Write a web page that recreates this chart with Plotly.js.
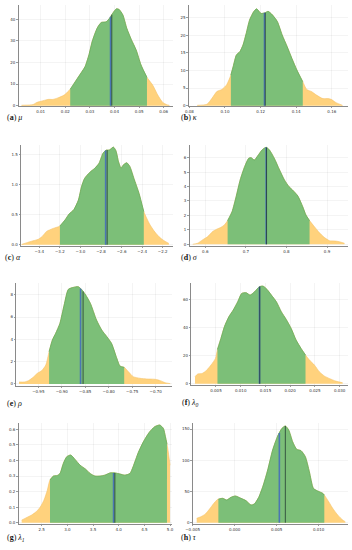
<!DOCTYPE html>
<html>
<head>
<meta charset="utf-8">
<script src="https://cdn.plot.ly/plotly-3.0.1.min.js"></script>
<style>html,body{margin:0;padding:0;background:#fff;}#chart{width:352px;height:550px;}</style>
</head>
<body>
<div id="chart"></div>
<script>
// ---- data (posterior densities) ----
const muX = [0.0022,0.0069,0.0082,0.010,0.013,0.015,0.017,0.0195,0.022,0.0245,0.0265,0.028,0.0296,0.031,0.033,0.0346,0.0366,0.038,0.0393,0.0407,0.0418,0.0434,0.045,0.0468,0.0488,0.0508,0.0532,0.0555,0.0576,0.0596,0.061,0.0623];
const muY = [0.2,0.5,1.4,2.0,2.9,2.9,3.6,4.9,7.6,11.9,15.3,18,23.5,30,36,38.5,38.8,40.5,42.8,44.8,44.6,42,35.8,30.7,25.8,18.8,13.1,9.6,4.9,1.5,0.6,0.15];
const kappaX = [0.0844,0.0899,0.0927,0.0954,0.0982,0.1009,0.1033,0.1046,0.1064,0.1083,0.1101,0.1119,0.1138,0.1161,0.1178,0.1202,0.1226,0.1242,0.1266,0.1294,0.1321,0.1349,0.1376,0.1404,0.1437,0.1459,0.1486,0.1514,0.155,0.1578,0.1596,0.1624,0.166];
const kappaY = [0.1,0.4,2.1,4.0,4.6,5.9,8.7,11.1,14.4,15.3,17.2,20.5,24.3,26.7,27.5,26.2,26.4,26.8,25.8,23.9,20.1,16.8,13.4,10.1,6.8,4.6,4.0,3.0,2.0,2.0,1.8,0.85,0.1];
const alphaX = [-3.571,-3.49,-3.41,-3.37,-3.33,-3.265,-3.2,-3.15,-3.11,-3.065,-3.02,-2.99,-2.96,-2.91,-2.86,-2.82,-2.78,-2.75,-2.72,-2.68,-2.655,-2.63,-2.605,-2.585,-2.55,-2.52,-2.48,-2.43,-2.384,-2.33,-2.285,-2.235,-2.19,-2.14];
const alphaY = [0.005,0.05,0.09,0.14,0.22,0.27,0.31,0.41,0.51,0.58,0.74,0.96,1.10,1.20,1.27,1.35,1.52,1.57,1.57,1.62,1.56,1.38,1.27,1.32,1.36,1.30,1.10,0.85,0.55,0.35,0.23,0.13,0.07,0.02];
const sigmaX = [0.569,0.581,0.593,0.606,0.618,0.628,0.639,0.647,0.655,0.666,0.676,0.686,0.697,0.707,0.713,0.721,0.729,0.740,0.750,0.758,0.770,0.783,0.795,0.806,0.815,0.828,0.840,0.848,0.857,0.869,0.881,0.893,0.906,0.918,0.930,0.943];
const sigmaY = [0,0.07,0.3,0.53,0.88,1.04,1.18,1.34,1.64,2.26,3.3,4.46,5.38,5.96,6.0,5.84,6.12,6.54,6.72,6.54,5.96,5.15,4.46,4.0,3.76,3.35,2.61,2.03,1.64,1.22,0.81,0.48,0.25,0.23,0.18,0.07];
const rhoX = [-0.991,-0.98,-0.971,-0.961,-0.952,-0.943,-0.934,-0.927,-0.92,-0.913,-0.904,-0.895,-0.886,-0.875,-0.865,-0.858,-0.849,-0.839,-0.826,-0.815,-0.804,-0.794,-0.784,-0.776,-0.767,-0.758,-0.748,-0.733,-0.719,-0.701,-0.69,-0.68,-0.669];
const rhoY = [0.18,0.18,0.3,0.6,0.96,1.19,1.7,2.9,3.94,4.54,5.43,7.07,8.48,8.66,8.72,8.48,7.97,7.22,5.73,4.84,4.24,3.64,2.45,1.61,1.49,1.1,0.66,0.51,0.45,0.42,0.3,0.12,0.03];
const lambda0X = [0.00076,0.0013,0.0022,0.003,0.004,0.0049,0.0053,0.006,0.0067,0.0076,0.0085,0.0094,0.0102,0.0111,0.0119,0.0128,0.0138,0.0145,0.0153,0.0162,0.0172,0.0182,0.0192,0.0202,0.0212,0.0222,0.0231,0.0239,0.0249,0.0259,0.0269,0.028,0.0292,0.0306];
const lambda0Y = [5,6.9,7.3,9.2,13.3,18,24.4,32.2,40.5,47.6,52.4,58.3,64.2,64.7,63,65.4,69,69.4,67.1,63,58.3,51.2,45.7,39.3,31,25.1,20.4,16.8,13.3,8.5,5.5,3.6,1.9,0.7];
const lambda1X = [2.11,2.21,2.305,2.39,2.47,2.545,2.61,2.66,2.727,2.805,2.857,2.92,2.987,3.065,3.149,3.247,3.36,3.44,3.537,3.636,3.73,3.83,3.93,4.025,4.12,4.22,4.28,4.38,4.48,4.59,4.70,4.80,4.87,4.91,4.95,5.0];
const lambda1Y = [0.017,0.034,0.05,0.07,0.10,0.146,0.21,0.274,0.30,0.304,0.317,0.38,0.424,0.435,0.407,0.37,0.343,0.317,0.30,0.30,0.306,0.32,0.32,0.313,0.306,0.317,0.36,0.45,0.52,0.579,0.617,0.628,0.606,0.553,0.489,0.37];
const tauX = [-0.00452,-0.00401,-0.00349,-0.00302,-0.00254,-0.00202,-0.00143,-0.00095,-0.00044,0.00008,0.00075,0.00135,0.00194,0.00234,0.00286,0.00341,0.00393,0.00452,0.00512,0.00563,0.00603,0.00643,0.0069,0.00738,0.0079,0.00841,0.00889,0.00937,0.00988,0.01048,0.01067,0.01119,0.01167,0.01226,0.01286,0.01317];
const tauY = [7,9.6,13.9,21.4,29.9,37.4,39,36.3,40.6,42.7,39,35.2,28.3,29.9,40.6,60.3,84.4,116.4,138.8,151,154.8,148.4,129.7,117.5,115.3,105.7,81.7,55,50.7,47,44.3,33.6,23,12.3,4.3,1.6];

// credible interval bounds (green region) per panel
const intervalLow  = [0.022, 0.1033, -3.2, 0.655, -0.927, 0.0053, 2.662, -0.00194];
const intervalHigh = [0.0532, 0.1437, -2.384, 0.857, -0.767, 0.0231, 4.94, 0.01067];
// vertical markers (blue and dark lines)
const blueLine = [0.0384, 0.1222, -2.755, 0.750, -0.860, 0.0138, 3.90, 0.00532];
const darkLine = [0.0389, 0.1226, -2.74, 0.751, -0.8546, 0.01385, 3.925, 0.00603];
// panel captions
const captionLetters = ['a','b','c','d','e','f','g','h'];
const captionSymbols = ['μ','κ','α','σ','ρ','λ<sub>0</sub>','λ<sub>1</sub>','τ'];
// tick settings
const xTickVals = [
  [0.01,0.02,0.03,0.04,0.05,0.06],
  [0.08,0.10,0.12,0.14,0.16],
  [-3.4,-3.2,-3.0,-2.8,-2.6,-2.4,-2.2],
  [0.6,0.7,0.8,0.9],
  [-0.95,-0.90,-0.85,-0.80,-0.75,-0.70],
  [0.005,0.010,0.015,0.020,0.025,0.030],
  [2.5,3.0,3.5,4.0,4.5,5.0],
  [-0.005,0.000,0.005,0.010]
];
const xTickFormats = ['.2f','.2f','.1f','.1f','.2f','.3f','.1f','.3f'];
const yTickVals = [
  [0,10,20,30,40],
  [0,5,10,15,20,25],
  [0,0.5,1.0,1.5],
  [0,1,2,3,4,5,6],
  [0,2,4,6,8],
  [0,20,40,60],
  [0,0.1,0.2,0.3,0.4,0.5,0.6],
  [0,50,100,150]
];
const yTickFormats = ['d','d','.1f','d','d','d','.1f','d'];

const seriesX = [muX, kappaX, alphaX, sigmaX, rhoX, lambda0X, lambda1X, tauX];
const seriesY = [muY, kappaY, alphaY, sigmaY, rhoY, lambda0Y, lambda1Y, tauY];

// ---- layout geometry (pixels) ----
const W = 352, H = 550;
const panels = [
  {l:18.3, r:173.3, t:5, b:106,  xr:[0.0009,0.0639],   yr:[-0.15,46.6],  cap:[4.5,117]},
  {l:188.5,r:348,   t:5, b:106,  xr:[0.0795,0.1691],   yr:[-0.1,28.6],   cap:[178.5,117]},
  {l:20.7, r:173.3, t:145,b:246, xr:[-3.581,-2.097],   yr:[-0.022,1.655],cap:[2.5,257]},
  {l:189.3,r:348,   t:145,b:246, xr:[0.5606,0.9517],   yr:[-0.12,6.88],  cap:[178.5,257]},
  {l:16,   r:172,   t:283,b:386, xr:[-0.9975,-0.6652], yr:[-0.18,9.05],  cap:[4.5,403]},
  {l:191,  r:348,   t:283,b:385, xr:[-0.00005,0.03169],yr:[-0.9,71.6],   cap:[180,402.5]},
  {l:18.3, r:172,   t:423,b:524, xr:[2.044,5.038],     yr:[-0.008,0.641],cap:[4.5,537.5]},
  {l:192.5,r:348,   t:423,b:524, xr:[-0.00502,0.01349],yr:[-2.1,159.6],  cap:[178.5,537.5]}
];

const yellow = 'rgb(255,210,125)';
const green = 'rgb(124,191,120)';
const blue = 'rgba(70,110,185,0.9)';
const dark = 'rgb(35,60,50)';

function interp(xs, ys, x) {
  if (x <= xs[0]) return ys[0];
  for (let i = 1; i < xs.length; i++) {
    if (x <= xs[i]) {
      const t = (x - xs[i-1]) / (xs[i] - xs[i-1]);
      return ys[i-1] + t * (ys[i] - ys[i-1]);
    }
  }
  return ys[ys.length-1];
}

function d3fmt(v, f) {
  let s;
  if (f === 'd') s = String(Math.round(v));
  else s = v.toFixed(parseInt(f.slice(1)));
  return s.replace('-', '\u2212');
}

const traces = [];
const layout = {
  width: W, height: H,
  margin: {l:0, r:0, t:0, b:0},
  paper_bgcolor: '#fff', plot_bgcolor: 'rgba(0,0,0,0)',
  showlegend: false,
  annotations: []
};

panels.forEach((p, i) => {
  const n = i === 0 ? '' : String(i+1);
  const xa = 'x' + n, ya = 'y' + n;
  const xs = seriesX[i], ys = seriesY[i];
  traces.push({
    x: xs, y: ys, xaxis: xa, yaxis: ya, type: 'scatter', mode: 'lines',
    line: {color: 'rgb(245,195,105)', width: 0.6, shape: 'spline', smoothing: 0.6},
    fill: 'tozeroy', fillcolor: yellow, hoverinfo: 'skip'
  });
  const lo = intervalLow[i], hi = intervalHigh[i];
  const gx = [lo], gy = [interp(xs, ys, lo)];
  xs.forEach((v, k) => { if (v > lo && v < hi) { gx.push(v); gy.push(ys[k]); } });
  gx.push(hi); gy.push(interp(xs, ys, hi));
  traces.push({
    x: gx, y: gy, xaxis: xa, yaxis: ya, type: 'scatter', mode: 'lines',
    line: {color: 'rgb(100,172,96)', width: 0.8, shape: 'spline', smoothing: 0.6},
    fill: 'tozeroy', fillcolor: green, hoverinfo: 'skip'
  });
  traces.push({
    x: [blueLine[i], blueLine[i]], y: [0, interp(xs, ys, blueLine[i])],
    xaxis: xa, yaxis: ya, type: 'scatter', mode: 'lines',
    line: {color: blue, width: 1.6}, hoverinfo: 'skip'
  });
  traces.push({
    x: [darkLine[i], darkLine[i]], y: [0, interp(xs, ys, darkLine[i])],
    xaxis: xa, yaxis: ya, type: 'scatter', mode: 'lines',
    line: {color: dark, width: 0.8}, hoverinfo: 'skip'
  });
  const axCommon = {
    showline: true, linecolor: 'rgb(60,60,60)', linewidth: 0.6,
    showgrid: true, gridcolor: 'rgba(0,0,0,0.09)', gridwidth: 0.5,
    zeroline: false, ticks: 'outside', ticklen: 1.5, tickwidth: 0.5, tickcolor: 'rgb(60,60,60)',
    tickfont: {size: 4, color: 'rgb(50,50,50)', family: 'DejaVu Sans'},
    fixedrange: true
  };
  layout['xaxis' + n] = Object.assign({}, axCommon, {
    domain: [p.l / W, p.r / W], range: p.xr, anchor: ya,
    tickmode: 'array', tickvals: xTickVals[i],
    ticktext: xTickVals[i].map(v => d3fmt(v, xTickFormats[i]))
  });
  layout['yaxis' + n] = Object.assign({}, axCommon, {
    domain: [1 - p.b / H, 1 - p.t / H], range: p.yr, anchor: xa,
    tickmode: 'array', tickvals: yTickVals[i],
    ticktext: yTickVals[i].map(v => d3fmt(v, yTickFormats[i]))
  });
  layout.annotations.push({
    xref: 'paper', yref: 'paper', x: p.cap[0] / W, y: 1 - p.cap[1] / H,
    xanchor: 'left', yanchor: 'middle', showarrow: false,
    text: '(<b>' + captionLetters[i] + '</b>) <i>' + captionSymbols[i] + '</i>',
    font: {family: 'Liberation Serif', size: 8, color: '#111'}
  });
});

Plotly.newPlot('chart', traces, layout, {staticPlot: true, displayModeBar: false});
</script>
</body>
</html>
